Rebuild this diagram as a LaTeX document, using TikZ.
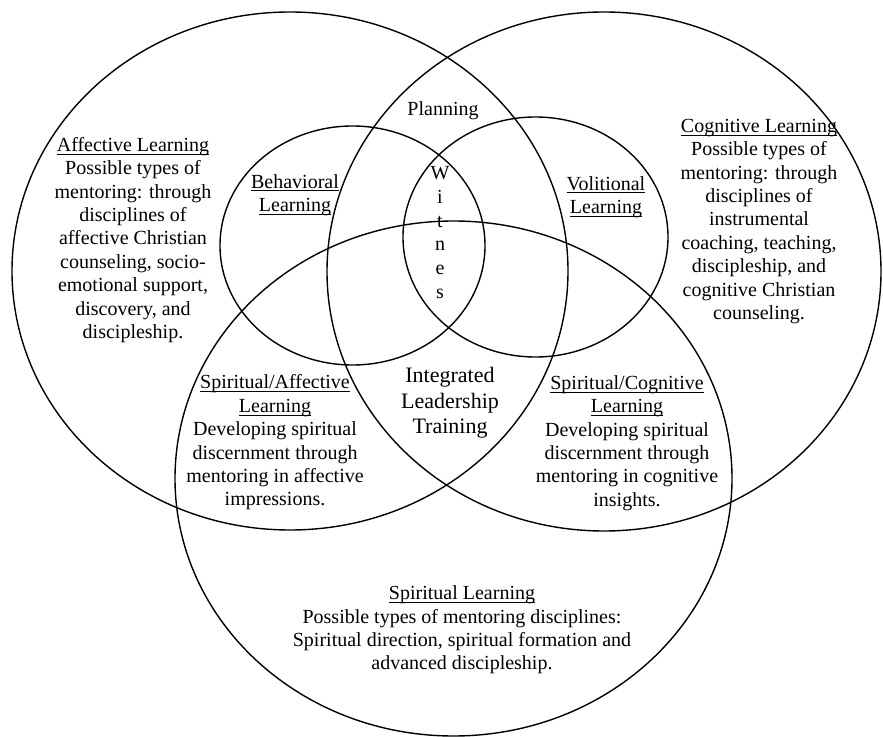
\documentclass[tikz,border=0pt]{standalone}
\usepackage{fontspec}
\setmainfont{Liberation Serif}
\usepackage{tikz}
\newcommand\ulabel[1]{\underline{\smash{#1}}\vphantom{#1}}

\begin{document}
\begin{tikzpicture}[x=0.5pt,y=-0.5pt,
  ring/.style={line width=0.7pt},
  txt/.style={align=center,inner sep=0pt,font=\fontsize{10}{11.7}\selectfont}]
\useasboundingbox (0,0) rectangle (883,737);
% the three large domains
\draw [ring] (290,271) ellipse [x radius=278,y radius=259];
\draw [ring] (604,271.5) ellipse [x radius=277,y radius=259.5];
\draw [ring] (453.5,478.5) ellipse [x radius=278.5,y radius=257.5];
% the two inner ones
\draw [ring] (352.5,245.5) ellipse [x radius=132.5,y radius=119.5];
\draw [ring] (535.5,237) ellipse [x radius=132.5,y radius=120];
\node [txt] (affective) at (133,240) {\ulabel{Affective Learning}\\Possible types of\\mentoring: through\\disciplines of\\affective Christian\\counseling, socio-\\emotional support,\\discovery, and\\discipleship.};
\node [txt] (cognitive) at (759,221.5) {\ulabel{Cognitive Learning}\\Possible types of\\mentoring: through\\disciplines of\\instrumental\\coaching, teaching,\\discipleship, and\\cognitive Christian\\counseling.};
\node [txt] (behavioral) at (295,195) {\ulabel{Behavioral}\\\ulabel{Learning}};
\node [txt] (volitional) at (606,197) {\ulabel{Volitional}\\\ulabel{Learning}};
\node [txt] (planning) at (443,111) {Planning};
\node [txt,font=\fontsize{10}{11.9}\selectfont] (witness) at (440,232.5) {W\\i\\t\\n\\e\\s};
\node [txt,font=\fontsize{11}{12.75}\selectfont] (integrated) at (450,403) {Integrated\\Leadership\\Training};
\node [txt] (spaff) at (275,442.5) {\ulabel{Spiritual/Affective}\\\ulabel{Learning}\\Developing spiritual\\discernment through\\mentoring in affective\\impressions.};
\node [txt] (spcog) at (627,443) {\ulabel{Spiritual/Cognitive}\\\ulabel{Learning}\\Developing spiritual\\discernment through\\mentoring in cognitive\\insights.};
\node [txt] (spiritual) at (462,630) {\ulabel{Spiritual Learning}\\Possible types of mentoring disciplines:\\Spiritual direction, spiritual formation and\\advanced discipleship.};
\end{tikzpicture}
\end{document}
